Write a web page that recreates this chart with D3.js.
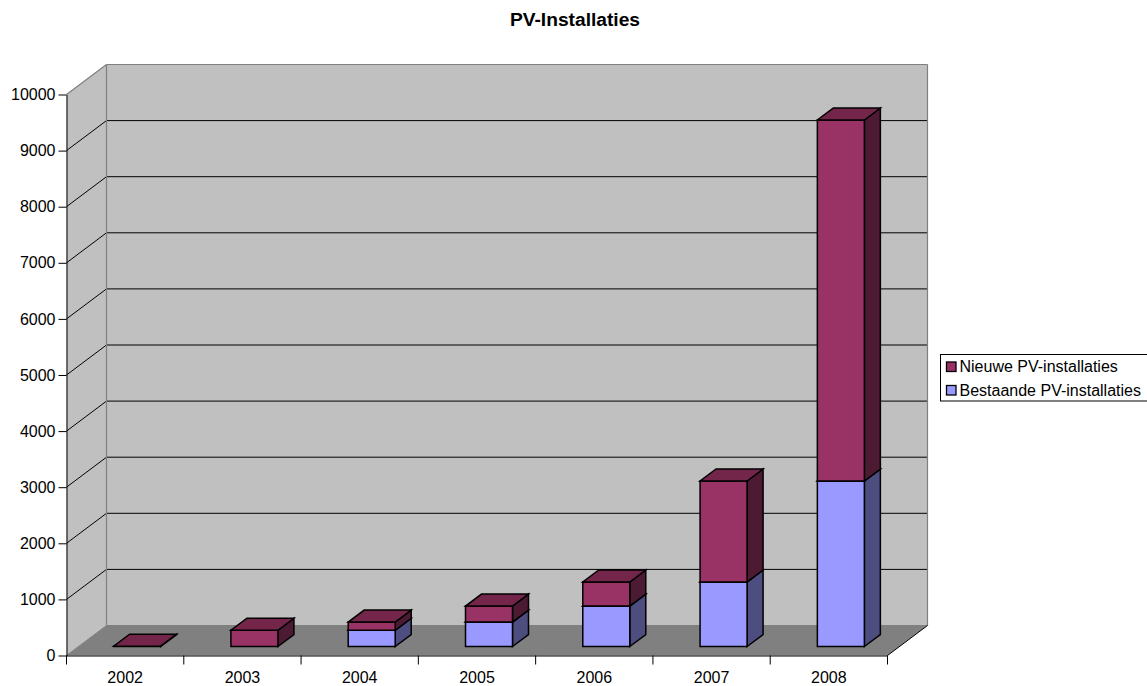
<!DOCTYPE html>
<html><head><meta charset="utf-8">
<script src="https://cdn.jsdelivr.net/npm/d3@7"></script>
<style>html,body{margin:0;padding:0;background:#fff}svg{display:block}text{font-family:"Liberation Sans",Arial,sans-serif;fill:#000}</style>
</head><body><div id="c"></div>
<script>
const years = ["2002","2003","2004","2005","2006","2007","2008"];
const bestaande = [0,0,290,435,720,1150,2950];
const nieuwe = [5,290,145,285,430,1800,6435];
const yTicks = [0,1000,2000,3000,4000,5000,6000,7000,8000,9000,10000];
const seriesNames = ["Nieuwe PV-installaties","Bestaande PV-installaties"];
const colors = {nieuw:{front:"#993366",top:"#732649",side:"#4d1a33"},best:{front:"#9999ff",top:"#7373bf",side:"#4d4d80"}};

const W=1147,H=686;
const svg=d3.select("#c").append("svg").attr("width",W).attr("height",H);
const x=d3.scaleBand().domain(years).range([66.5,887.5]).paddingInner(0).paddingOuter(0);
const y=d3.scaleLinear().domain([0,10000]).range([655.5,94.5]);
const depth=d3.scaleLinear().domain([0,1]).range([0,1]);
const DX=40,DY=-30;
const pt=(px,v,d)=>[px+depth(d)*DX,y(v)+depth(d)*DY];
const poly=(pts,fill,stroke,sw)=>svg.append("polygon").attr("points",pts.map(p=>p.join(",")).join(" ")).attr("fill",fill).attr("stroke",stroke||"none").attr("stroke-width",sw||0).attr("stroke-linejoin","miter");
const line=(a,b,c,sw)=>svg.append("line").attr("x1",a[0]).attr("y1",a[1]).attr("x2",b[0]).attr("y2",b[1]).attr("stroke",c).attr("stroke-width",sw||1);

const L=x.range()[0],R=x.range()[1],yMax=10000;
// walls
poly([pt(L,0,0),pt(L,yMax,0),pt(L,yMax,1),pt(L,0,1)],"#c0c0c0");
poly([pt(L,0,1),pt(L,yMax,1),pt(R,yMax,1),pt(R,0,1)],"#c0c0c0");
poly([pt(L,0,0),pt(L,0,1),pt(R,0,1),pt(R,0,0)],"#808080");
// gridlines
yTicks.slice(1,-1).forEach(t=>{
  line(pt(L,t,0),pt(L,t,1),"#000");
  line(pt(L,t,1),pt(R,t,1),"#000");
});
// wall borders
line(pt(L,yMax,0),pt(L,yMax,1),"#808080",1.2);
line(pt(L,yMax,1),pt(R,yMax,1),"#808080",1.2);
line(pt(R,yMax,1),pt(R,0,1),"#808080",1.2);
line(pt(L,yMax,1),pt(L,0,1),"#808080",1.2);
line(pt(L,0,1),pt(R,0,1),"#808080",1);
line(pt(L,0,0),pt(L,0,1),"#808080",1);
line(pt(R,0,0),pt(R,0,1),"#000",1);

// bars
const d0=0.3,d1=0.7,barW=47;
function seg(yr,v0,v1,c){
  const bx=x(yr)+(x.bandwidth()-barW)/2, a=bx, b=bx+barW;
  const S=1.5,K="#000";
  if(v1>v0){
    poly([pt(b,v0,d0),pt(b,v0,d1),pt(b,v1,d1),pt(b,v1,d0)],c.side,K,S);
    poly([pt(a,v0,d0),pt(b,v0,d0),pt(b,v1,d0),pt(a,v1,d0)],c.front,K,S);
  }
  poly([pt(a,v1,d0),pt(b,v1,d0),pt(b,v1,d1),pt(a,v1,d1)],c.top,K,S);
}
years.forEach((yr,i)=>{
  const b=bestaande[i],n=nieuwe[i];
  if(b>0) seg(yr,0,b,colors.best);
  seg(yr,b,b+n,colors.nieuw);
});

// axes
const fs=16;
const gy=svg.append("g").attr("transform",`translate(${L},0)`).call(d3.axisLeft(y).tickValues(yTicks).tickFormat(d3.format("d")).tickSize(8).tickSizeOuter(0));
gy.selectAll("path").attr("stroke","#000");
gy.selectAll("line").attr("stroke","#000");
gy.selectAll("text").attr("x",-11).style("font-size",fs+"px").style("font-family",'"Liberation Sans",Arial,sans-serif');
const gx=svg.append("g").attr("transform",`translate(0,${y(0)})`).call(d3.axisBottom(x).tickSize(0).tickSizeOuter(0).tickPadding(16));
gx.selectAll("path").attr("stroke","#000");
gx.selectAll("text").style("font-size",fs+"px").style("font-family",'"Liberation Sans",Arial,sans-serif');
[...years.map(v=>x(v)),R].forEach(px=>line([px,y(0)],[px,y(0)+9],"#000"));

// title
svg.append("text").attr("x",575).attr("y",26).attr("text-anchor","middle").style("font-size","19.2px").style("font-weight","bold").text("PV-Installaties");

// legend
svg.append("rect").attr("x",940.5).attr("y",354.5).attr("width",230).attr("height",46.5).attr("fill","#fff").attr("stroke","#000");
const lg=[colors.nieuw.front,colors.best.front];
seriesNames.forEach((s,i)=>{
  const cy=366.5+i*23.5;
  svg.append("rect").attr("x",946.5).attr("y",cy-4.5).attr("width",9.5).attr("height",9.5).attr("fill",lg[i]).attr("stroke","#000").attr("stroke-width",1.3);
  svg.append("text").attr("x",959.5).attr("y",cy+5.6).style("font-size",fs+"px").text(s);
});
</script></body></html>
